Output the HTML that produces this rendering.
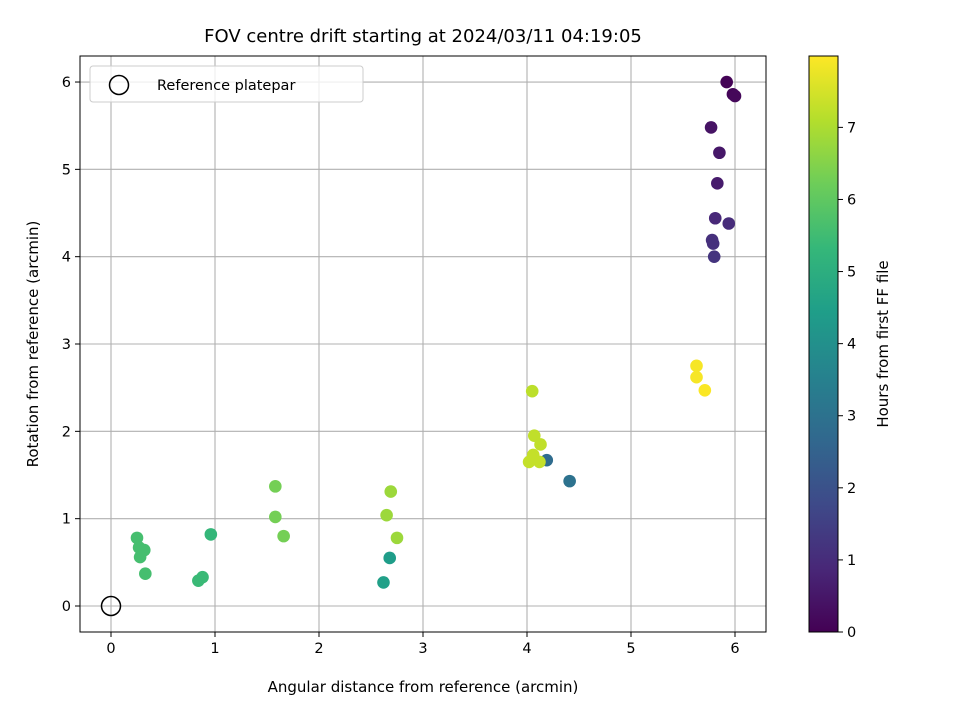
<!DOCTYPE html>
<html><head><meta charset="utf-8"><style>
body{margin:0;background:#fff;font-family:"Liberation Sans","DejaVu Sans",sans-serif}
svg text{font-family:"DejaVu Sans","Liberation Sans",sans-serif;fill:#000}
</style></head><body>
<svg id="chart" width="960" height="720" xmlns="http://www.w3.org/2000/svg">
<text x="423" y="42" font-size="18" text-anchor="middle">FOV centre drift starting at 2024/03/11 04:19:05</text>
<text x="423" y="692" font-size="15" text-anchor="middle">Angular distance from reference (arcmin)</text>
<text transform="translate(38,344) rotate(-90)" font-size="15" text-anchor="middle">Rotation from reference (arcmin)</text>
<text transform="translate(888,344) rotate(-90)" font-size="15" text-anchor="middle">Hours from first FF file</text>
<defs><linearGradient id="vir" x1="0" y1="1" x2="0" y2="0"></linearGradient></defs>
<g id="grid"></g><g id="pts"></g><g id="axes"></g>
</svg>
<script>
const xs=[5.92,5.98,6.0,5.77,5.85,5.83,5.81,5.94,5.78,5.79,5.8,4.19,4.41,2.68,2.62,0.96,0.88,0.84,0.25,0.27,0.32,0.28,0.33,1.58,1.58,1.66,2.69,2.65,2.75,4.05,4.07,4.13,4.06,4.02,4.12,5.63,5.63,5.71];
const ys=[6.0,5.86,5.84,5.48,5.19,4.84,4.44,4.38,4.19,4.15,4.0,1.67,1.43,0.55,0.27,0.82,0.33,0.29,0.78,0.67,0.64,0.56,0.37,1.37,1.02,0.8,1.31,1.04,0.78,2.46,1.95,1.85,1.73,1.65,1.65,2.75,2.62,2.47];
const hours=[0.05,0.1,0.15,0.4,0.5,0.6,0.9,1.0,1.1,1.1,1.2,2.8,3.0,4.4,4.5,5.3,5.4,5.4,5.6,5.6,5.6,5.6,5.6,6.3,6.3,6.3,6.8,6.8,6.8,7.2,7.25,7.25,7.3,7.3,7.3,7.9,7.9,7.95];
const xTicks=[0,1,2,3,4,5,6];
const yTicks=[0,1,2,3,4,5,6];
const cTicks=[0,1,2,3,4,5,6,7];
const cMax=7.99;
const NS="http://www.w3.org/2000/svg";
const L=80,R=766,T=56,B=632;
const X=v=>111+v*104, Y=v=>606-v*87.33, C=v=>632-v*(576/cMax);
const vir=[[68,1,84],[72,40,120],[62,74,137],[49,104,142],[38,130,142],[31,158,137],[53,183,121],[109,205,89],[180,222,44],[253,231,37]];
function col(h){let t=Math.max(0,Math.min(1,h/cMax))*9;let i=Math.min(8,Math.floor(t)),f=t-i;const a=vir[i],b=vir[i+1];return `rgb(${a.map((c,k)=>Math.round(c+(b[k]-c)*f)).join(',')})`;}
function mk(tag,at,parent,name,txt){const e=document.createElementNS(NS,tag);for(const k in at)e.setAttribute(k,at[k]);


if(txt!==undefined)e.textContent=txt;parent.appendChild(e);return e;}
const grid=document.getElementById('grid'),pts=document.getElementById('pts'),ax=document.getElementById('axes');
xTicks.forEach(v=>{mk('line',{x1:X(v),x2:X(v),y1:T,y2:B,stroke:'#b0b0b0','stroke-width':1.1},grid,'x-gridline');
mk('line',{x1:X(v),x2:X(v),y1:B,y2:B+5,stroke:'#000'},ax,'x-tick');
mk('text',{x:X(v),y:B+21,'font-size':14.5,'text-anchor':'middle'},ax,'x-tick-label',String(v));});
yTicks.forEach(v=>{mk('line',{x1:L,x2:R,y1:Y(v),y2:Y(v),stroke:'#b0b0b0','stroke-width':1.1},grid,'y-gridline');
mk('line',{x1:L-5,x2:L,y1:Y(v),y2:Y(v),stroke:'#000'},ax,'y-tick');
mk('text',{x:L-9,y:Y(v)+5,'font-size':14.5,'text-anchor':'end'},ax,'y-tick-label',String(v));});
xs.forEach((x,i)=>{mk('circle',{cx:X(x),cy:Y(ys[i]),r:6.3,fill:col(hours[i])},pts,'drift-point');});
mk('circle',{cx:X(0),cy:Y(0),r:9.5,fill:'none',stroke:'#000','stroke-width':1.5},pts,'reference-platepar-marker');
mk('rect',{x:L,y:T,width:R-L,height:B-T,fill:'none',stroke:'#000','stroke-width':1},ax,'plot-frame');
mk('rect',{x:90,y:66,width:273,height:36,rx:3,fill:'#fff','fill-opacity':0.8,stroke:'#ccc'},ax,'legend-box');
mk('circle',{cx:119,cy:85,r:9.5,fill:'none',stroke:'#000','stroke-width':1.5},ax,'legend-marker');
mk('text',{x:157,y:90,'font-size':14.5},ax,'legend-label','Reference platepar');
const g=document.getElementById('vir');
vir.forEach((c,i)=>{mk('stop',{offset:(i/9),'stop-color':`rgb(${c.join(',')})`},g,'gradient-stop');});
mk('rect',{x:809,y:T,width:29,height:B-T,fill:'url(#vir)',stroke:'#000','stroke-width':1},ax,'colorbar');
cTicks.forEach(v=>{mk('line',{x1:838,x2:843,y1:C(v),y2:C(v),stroke:'#000'},ax,'colorbar-tick');
mk('text',{x:847,y:C(v)+5,'font-size':14.5},ax,'colorbar-tick-label',String(v));});
</script>
</body></html>
